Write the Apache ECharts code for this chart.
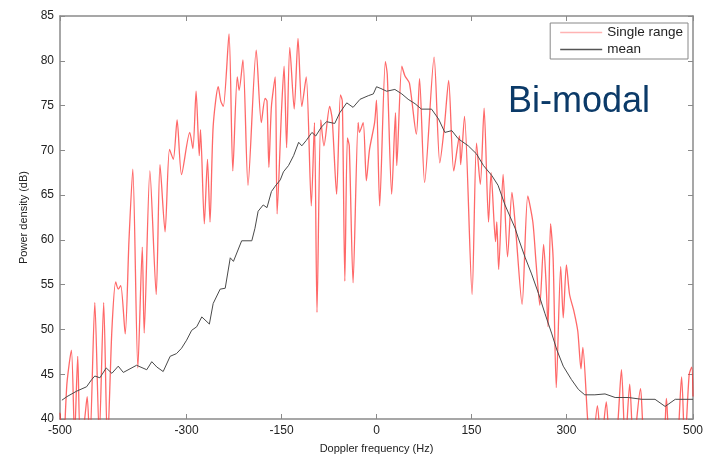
<!DOCTYPE html>
<html>
<head>
<meta charset="utf-8">
<script src="https://cdn.jsdelivr.net/npm/echarts@6/dist/echarts.min.js"></script>
<style>html,body{margin:0;padding:0;background:#fff;}#chart{width:713px;height:459px;}</style>
</head>
<body>
<div id="chart"></div>
<script>
// Tick labels
const xTicks = [-500, -300, -150, 0, 150, 300, 500];
const yTicks = [40, 45, 50, 55, 60, 65, 70, 75, 80, 85];

// Series: "Single range"
const redFreq = [-500,-495,-489,-482,-477,-472,-468,-462,-457,-453,-445,-438,-431,-425,-418,-412,-408,-404,-397,-391,-385,-377,-370,-367,-358,-348,-342,-334,-327,-321,-315,-308,-295,-290,-285,-280,-278,-272,-267,-263,-258,-250,-246,-242,-233,-227,-220,-217,-211,-203,-190,-182,-176,-173,-170,-166,-160,-157,-150,-146,-142,-137,-130,-124,-118,-111,-103,-98,-94,-88,-83,-74,-70,-63,-57,-54,-50,-46,-43,-37,-29,-27,-21,-16,-11,-3,0,5,14,17,24,30,32,40,45,52,63,68,76,91,100,107,114,122,131,133,139,151,158,164,170,177,181,188,190,193,200,207,214,220,230,239,247,252,258,264,268,271,275,279,284,291,295,300,305,312,318,323,326,334,340,349,355,363,369,375,380,387,393,400,406,417,424,440,453,458,463,473,482,487,494,498,500];
const redPower = [40.7,36.5,44,47.7,38,47.0,38,39.5,42.5,37,53.0,38,53.0,37,50,55.3,54.5,54.9,49.5,60,67.9,45.7,59.2,49.6,67.7,53.9,68.4,60.9,70.1,69.0,73.4,67.3,72.0,70.2,76.6,69.4,72.3,61.8,69.0,62.0,72.7,77.1,75.5,74.9,83.0,67.7,78.2,76.7,80.1,66.1,81.2,73.1,75.8,75.5,68.1,74.9,78.2,62.9,74.5,79.4,70.3,81.5,74.6,82.5,74.9,78.2,63.8,73.1,51.9,73.4,70.5,74.9,73.5,65.1,76.2,75.5,55.4,71.4,70.5,55.2,73.1,72.0,73.1,66.6,70.1,73.1,75.6,63.8,79.9,78.5,65.1,74.2,68.3,79.4,78.3,77.5,71.8,78.0,66.4,80.4,68.6,72.5,77.8,67.7,71.6,68.4,73.8,53.9,70.8,66.2,74.7,62.0,67.5,59.8,62,56.7,67.3,58.1,65.3,61,52.8,64.9,62.0,57.5,52.7,59.5,55,50.3,61.8,58,43.5,57.0,51.3,57.2,53.9,52,49.8,45.6,48.0,39.5,36,41.5,37,41.9,37,38,38.5,45.5,37,43.9,37,43.4,37,36,37,42.3,37,36,44.7,37,45.0,45.8,42.5];

// Series: "mean"
const meanFreq = [-497,-489,-474,-458,-450,-445,-437,-427,-418,-408,-400,-379,-363,-355,-347,-337,-326,-316,-308,-300,-292,-284,-276,-264,-258,-247,-239,-231,-226,-213,-197,-192,-187,-179,-173,-166,-160,-152,-147,-139,-131,-123,-118,-111,-102,-96,-87,-79,-66,-58,-47,-37,-26,-23,-13,-5,0,7,16,29,40,50,61,71,87,98,108,119,129,145,158,169,182,192,203,211,219,224,235,245,256,266,277,285,295,308,319,329,345,361,377,398,419,440,456,472,500];
const meanPower = [42.1,42.5,43.1,43.6,44.4,44.8,44.6,45.7,45.1,45.9,45.2,46.0,45.5,46.4,45.8,45.3,47.0,47.3,47.9,48.8,49.9,50.3,51.4,50.6,52.9,54.5,54.6,58.0,57.6,59.9,59.9,61.3,63.2,63.9,63.6,65.4,66.0,66.7,67.6,68.3,69.4,70.9,70.5,71.1,72.0,71.6,72.6,73.2,73.0,74.2,75.3,74.8,75.7,75.9,76.1,76.3,77.1,76.9,76.6,76.8,76.3,75.7,75.2,74.6,74.6,73.5,72.0,72.2,71.3,70.5,69.6,68.3,67.2,66.1,63.9,62.6,61.3,60.2,58.0,56.2,54.0,51.8,49.5,47.7,45.9,44.4,43.3,42.7,42.7,42.8,42.4,42.4,42.2,42.2,41.4,42.2,42.2];

const redData = redFreq.map((f, i) => [f, redPower[i]]);
const meanData = meanFreq.map((f, i) => [f, meanPower[i]]);

const font = '"Liberation Sans", Arial, sans-serif';
const axisColor = '#8a8a8a';
const labelStyle = { color: '#222', fontSize: 12, fontFamily: font };

const chart = echarts.init(document.getElementById('chart'), null, { renderer: 'canvas' });
chart.setOption({
  animation: false,
  backgroundColor: '#fff',
  grid: { left: 60, right: 20, top: 16, bottom: 36, containLabel: false },
  legend: {
    orient: 'vertical',
    right: 25, top: 23,
    backgroundColor: '#fff',
    borderColor: '#888', borderWidth: 1,
    padding: [2, 5, 2, 10],
    itemGap: 2,
    icon: 'rect',
    itemWidth: 42, itemHeight: 1.5,
    textStyle: { color: '#222', fontSize: 13.5, fontFamily: font, lineHeight: 15 },
    data: ['Single range', 'mean']
  },
  xAxis: [
    {
      type: 'value', min: -500, max: 500, interval: 50, position: 'bottom',
      name: 'Doppler frequency (Hz)', nameLocation: 'middle', nameGap: 24,
      nameTextStyle: { color: '#222', fontSize: 11, fontFamily: font },
      axisLine: { show: true, onZero: false, lineStyle: { color: axisColor, width: 1.5 } },
      axisTick: { show: true, inside: true, length: 5, customValues: xTicks, lineStyle: { color: axisColor } },
      axisLabel: { show: true, customValues: xTicks, margin: 6, ...labelStyle },
      splitLine: { show: false }
    },
    {
      type: 'value', min: -500, max: 500, interval: 50, position: 'top',
      axisLine: { show: true, onZero: false, lineStyle: { color: axisColor, width: 1.5 } },
      axisTick: { show: true, inside: true, length: 5, customValues: xTicks, lineStyle: { color: axisColor } },
      axisLabel: { show: false },
      splitLine: { show: false }
    }
  ],
  yAxis: [
    {
      type: 'value', min: 40, max: 85, interval: 5, position: 'left',
      name: 'Power density (dB)', nameLocation: 'middle', nameGap: 31, nameRotate: 90,
      nameTextStyle: { color: '#222', fontSize: 11, fontFamily: font },
      axisLine: { show: true, onZero: false, lineStyle: { color: axisColor, width: 1.5 } },
      axisTick: { show: true, inside: true, length: 5, lineStyle: { color: axisColor } },
      axisLabel: { show: true, margin: 6, formatter: v => yTicks.includes(v) ? String(v) : '', ...labelStyle },
      splitLine: { show: false }
    },
    {
      type: 'value', min: 40, max: 85, interval: 5, position: 'right',
      axisLine: { show: true, onZero: false, lineStyle: { color: axisColor, width: 1.5 } },
      axisTick: { show: true, inside: true, length: 5, lineStyle: { color: axisColor } },
      axisLabel: { show: false },
      splitLine: { show: false }
    }
  ],
  series: [
    {
      name: 'Single range', type: 'line', xAxisIndex: 0, yAxisIndex: 0,
      data: redData, symbol: 'none', smooth: 0.25, clip: true,
      lineStyle: { color: 'rgba(255,40,40,0.7)', width: 1.3 },
      itemStyle: { color: '#ffb3b3' }
    },
    {
      name: 'mean', type: 'line', xAxisIndex: 0, yAxisIndex: 0,
      data: meanData, symbol: 'none', clip: true,
      lineStyle: { color: '#4a4a4a', width: 1 },
      itemStyle: { color: '#555555' }
    }
  ],
  graphic: [
    {
      type: 'text', left: 508, top: 84, silent: true,
      style: { text: 'Bi-modal', fill: '#0b3a68', fontSize: 36, fontFamily: font }
    }
  ]
});
</script>
</body>
</html>
